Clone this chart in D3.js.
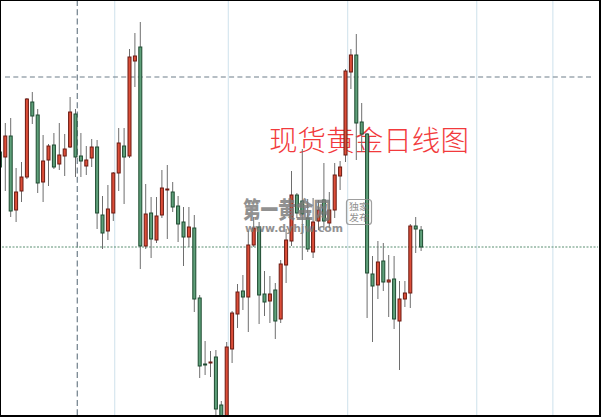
<!DOCTYPE html>
<html><head><meta charset="utf-8">
<script src="https://cdn.jsdelivr.net/npm/d3@7"></script>
<style>html,body{margin:0;padding:0;background:#fff;}svg{display:block;}</style>
</head><body>
<svg id="chart" width="601" height="417"></svg>
<script>
// Daily candles (index = trading day slot)
const open  = [1304,1301.5,1312,1275,1284.5,1291.5,1329,1322.5,1289,1300,1307.5,1298,1302,1306.5,1323,1302,1297,1301,1306.5,1272.5,1264.5,1273.5,1293.5,1307,1302,1349.5,1356.5,1257,1273.5,1260,1272.5,1285,1284,1277,1269,1261.5,1266,1231,1198,1198.5,1201.5,1177.5,1168,1205.5,1223,1234.5,1231.5,1257.5,1266.5,1233,1229.5,1235,1220.5,1247.5,1259.5,1282.5,1279.5,1271,1254,1269.5,1280,1268.5,1275,1292,1302.5,1344,1352.5,1319,1313,1243,1237.5,1249.5,1239,1240.5,1219.5,1230.5,1233.5,1267,1265];
const high  = [1307,1318.5,1321,1296,1299,1331,1334,1325.5,1312.5,1308,1313.5,1318.5,1313,1331.5,1325.5,1313.5,1307,1310.5,1310,1282,1287.5,1294,1316,1316,1355.5,1363.5,1369,1288,1281.5,1281.5,1295,1297.5,1289,1282,1276.5,1276.5,1272.5,1232.5,1209.5,1204.5,1205,1179.5,1209,1224.5,1238,1242.5,1264.5,1271.5,1269,1244.5,1242,1238.5,1250,1265.5,1294.5,1283.5,1305.5,1280.5,1281,1280,1298.5,1284,1298.5,1299.5,1345.5,1355.5,1363,1328.5,1313.5,1252,1259.5,1258.5,1252.5,1252,1239.5,1239.5,1268,1271.5,1267];
const low   = [1294.5,1284.5,1271.5,1269,1279,1290.5,1318,1283.5,1279,1287,1295.5,1295,1292,1306,1291.5,1291.5,1292.5,1296.5,1265.5,1255.5,1260,1269.5,1284.5,1278,1301,1336.5,1245.5,1255.5,1251,1258.5,1271,1260.5,1274,1259,1247,1256.5,1224,1191,1192.5,1191.5,1167.5,1165,1164,1198.5,1216,1225,1214,1256.5,1218,1222,1218.5,1210.5,1218.5,1238.5,1257,1271,1250,1254,1251,1265,1265,1266,1271,1285,1299,1335.5,1300,1304,1221,1209,1230.5,1234.5,1221.5,1215.5,1195,1226.5,1226,1253.5,1254.5];
const close = [1296.5,1312,1274.5,1284,1291.5,1330.5,1322,1288.5,1299.5,1307,1296.5,1302.5,1305.5,1324,1301.5,1299.5,1300,1306.5,1273.5,1263.5,1275.5,1293.5,1308.5,1301.5,1351.5,1352,1257,1273,1260.5,1272,1286,1285.5,1276.5,1268,1261.5,1266.5,1230.5,1197,1197.5,1199,1175.5,1169,1206.5,1223.5,1234,1231.5,1257.5,1266,1232.5,1229,1233,1219.5,1248,1260,1282.5,1273.5,1273,1255.5,1269,1275,1269.5,1275,1292.5,1296.5,1344.5,1352.5,1318.5,1313,1243.5,1237,1249,1239,1240,1220.5,1230.5,1233.5,1267,1265.5,1256.5];
const gridSlots = [21.26, 42.3, 64.4, 88.3, 102.4];
const crossSlot = 14.33;
const crossPrice = 1341.5;
const title = "现货黄金日线图";
const wmMain = "第一黄金网";
const wmUrl = "www.dyhjw.com";
const wmTag = ["独家", "发布"];

const W = 601, H = 417;
const svg = d3.select("#chart");
const data = open.map((o, i) => ({i, o, h: high[i], l: low[i], c: close[i]}));

const x = d3.scaleLinear().domain([0, 78]).range([-0.1, 421.1]);
const y = d3.scaleLinear().domain([1171.5, 1380]).range([417, 0]);

// border
svg.append("rect").attr("x", 0).attr("y", 0).attr("width", W).attr("height", H).attr("fill", "#000");
svg.append("rect").attr("x", 1).attr("y", 1).attr("width", 598).attr("height", 414).attr("fill", "#fff");

svg.append("defs").append("clipPath").attr("id", "clip")
  .append("rect").attr("x", 1).attr("y", 1).attr("width", 598).attr("height", 414);
const g = svg.append("g").attr("clip-path", "url(#clip)");

// vertical grid
g.selectAll("line.grid").data(gridSlots).join("line").attr("class", "grid")
  .attr("x1", d => x(d)).attr("x2", d => x(d)).attr("y1", 1).attr("y2", 415)
  .attr("stroke", "#d6e6ef").attr("stroke-width", 1.2);

// crosshair
g.append("line").attr("x1", 5).attr("x2", 593).attr("y1", y(crossPrice)).attr("y2", y(crossPrice))
  .attr("stroke", "#6f7e8a").attr("stroke-width", 1.2).attr("stroke-dasharray", "5,3.3");
g.append("line").attr("x1", x(crossSlot)).attr("x2", x(crossSlot)).attr("y1", 0).attr("y2", 417)
  .attr("stroke", "#6f7e8a").attr("stroke-width", 1.2).attr("stroke-dasharray", "6,3.3");

// last price dotted line
const last = close[close.length - 1];
g.append("line").attr("x1", 2).attr("x2", 598).attr("y1", y(last)).attr("y2", y(last))
  .attr("stroke", "#5b8f72").attr("stroke-width", 1).attr("stroke-dasharray", "2,1.5");

// title
g.append("text").attr("x", 269).attr("y", 151).text(title)
  .attr("font-family", "'Noto Sans CJK SC', sans-serif").attr("font-weight", 300)
  .attr("font-size", 28).attr("fill", "#f23a3c").attr("textLength", 200).attr("lengthAdjust", "spacingAndGlyphs");

// candles
const cg = g.selectAll("g.candle").data(data).join("g").attr("class", "candle");
cg.append("line")
  .attr("x1", d => x(d.i)).attr("x2", d => x(d.i))
  .attr("y1", d => y(d.h)).attr("y2", d => y(d.l))
  .attr("stroke", "#6e6e6e").attr("stroke-width", 1);
cg.append("rect")
  .attr("x", d => x(d.i) - 1.5).attr("width", 3)
  .attr("y", d => y(Math.max(d.o, d.c)))
  .attr("height", d => Math.max(Math.abs(y(d.o) - y(d.c)), 0.8))
  .attr("fill", d => d.c >= d.o ? "#dc4e39" : "#5fa07a")
  .attr("stroke", d => d.c >= d.o ? "#6b1910" : "#1d4a30")
  .attr("stroke-width", 1);

// watermark
const wm = svg.append("g").attr("opacity", 0.82);
wm.append("text").attr("x", 243).attr("y", 218).text(wmMain)
  .attr("font-family", "'Noto Sans CJK SC', sans-serif").attr("font-weight", 900)
  .attr("font-size", 23).attr("fill", "#7a7a7a").attr("textLength", 88).attr("lengthAdjust", "spacingAndGlyphs");
wm.append("text").attr("x", 245).attr("y", 232).text(wmUrl)
  .attr("font-family", "'DejaVu Sans', sans-serif").attr("font-weight", 700)
  .attr("font-size", 10.5).attr("fill", "#7a7a7a").attr("textLength", 98).attr("lengthAdjust", "spacingAndGlyphs");
wm.append("rect").attr("x", 346.5).attr("y", 199.5).attr("width", 25).attr("height", 25).attr("rx", 3)
  .attr("fill", "none").attr("stroke", "#8a8a8a").attr("stroke-width", 1.2);
wm.selectAll("text.tag").data(wmTag).join("text").attr("class", "tag")
  .attr("x", 349).attr("y", (d, k) => 210 + k * 11).text(d => d)
  .attr("font-family", "'Noto Sans CJK SC', sans-serif").attr("font-size", 9.5).attr("fill", "#7a7a7a")
  .attr("textLength", 20).attr("lengthAdjust", "spacingAndGlyphs");
</script>
</body></html>
